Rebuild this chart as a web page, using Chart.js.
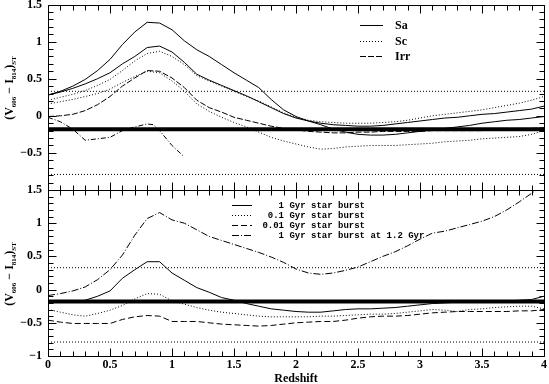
<!DOCTYPE html>
<html>
<head>
<meta charset="utf-8">
<script src="https://cdn.jsdelivr.net/npm/chart.js@4.4.0/dist/chart.umd.min.js"></script>
<style>
  html, body { margin: 0; padding: 0; background: #fff; }
  #wrap { position: relative; width: 549px; height: 384px; }
  canvas { position: absolute; left: 0; }
  #top { top: 0; }
  #bottom { top: 180px; }
</style>
</head>
<body>
<div id="wrap">
  <canvas id="top" width="549" height="200"></canvas>
  <canvas id="bottom" width="549" height="204"></canvas>
</div>
<script>
// redshift grid used by the model curves
const zGrid = [0, 0.1, 0.2, 0.3, 0.4, 0.5, 0.6, 0.7, 0.8, 0.9, 1.0, 1.1, 1.2, 1.3, 1.4, 1.5, 1.6, 1.7, 1.8, 1.9, 2.0,
               2.1, 2.2, 2.3, 2.4, 2.5, 2.6, 2.7, 2.8, 2.9, 3.0, 3.1, 3.2, 3.3, 3.4, 3.5, 3.6, 3.7, 3.8, 3.9, 4.0];

// top panel: Hubble types
const sa1 = [0.28, 0.33, 0.40, 0.49, 0.61, 0.76, 0.96, 1.13, 1.26, 1.25, 1.16, 1.01, 0.89, 0.80, 0.69, 0.58, 0.48, 0.38, 0.22, 0.08, -0.01,
             -0.07, -0.12, -0.18, -0.22, -0.25, -0.26, -0.26, -0.25, -0.23, -0.21, -0.19, -0.17, -0.15, -0.13, -0.10, -0.08, -0.06, -0.05, -0.03, -0.01];
const sa2 = [0.28, 0.32, 0.37, 0.43, 0.50, 0.58, 0.70, 0.80, 0.92, 0.94, 0.86, 0.72, 0.56, 0.48, 0.41, 0.34, 0.27, 0.19, 0.11, 0.03, -0.03,
             -0.07, -0.10, -0.12, -0.13, -0.14, -0.14, -0.13, -0.11, -0.09, -0.07, -0.05, -0.03, -0.02, 0.00, 0.02, 0.03, 0.05, 0.07, 0.09, 0.13];
const sc1 = [0.21, 0.25, 0.29, 0.34, 0.41, 0.49, 0.61, 0.74, 0.84, 0.87, 0.80, 0.69, 0.54, 0.47, 0.40, 0.33, 0.26, 0.20, 0.12, 0.04, -0.02,
             -0.06, -0.08, -0.09, -0.10, -0.10, -0.10, -0.09, -0.08, -0.06, -0.03, 0.00, 0.02, 0.04, 0.06, 0.08, 0.11, 0.14, 0.17, 0.21, 0.26];
const sc2 = [0.16, 0.19, 0.22, 0.26, 0.30, 0.36, 0.45, 0.53, 0.60, 0.58, 0.47, 0.33, 0.16, 0.06, -0.02, -0.09, -0.15, -0.22, -0.29, -0.34, -0.38,
             -0.42, -0.45, -0.44, -0.42, -0.41, -0.40, -0.40, -0.40, -0.39, -0.38, -0.37, -0.35, -0.34, -0.33, -0.31, -0.30, -0.29, -0.28, -0.25, -0.20];
const irr1 = [-0.01, 0.00, 0.02, 0.07, 0.15, 0.26, 0.40, 0.51, 0.61, 0.60, 0.51, 0.38, 0.21, 0.11, 0.05, -0.02, -0.06, -0.10, -0.14, -0.17, -0.19,
              -0.21, -0.22, -0.23, -0.23, -0.22, -0.22, -0.21, -0.21, -0.21, -0.21, -0.20, -0.20, -0.20, -0.20, -0.20, -0.19, -0.19, -0.18, -0.17, -0.16];
const irr2Z = [0, 0.1, 0.2, 0.3, 0.4, 0.5, 0.6, 0.7, 0.8, 0.85, 0.9, 1.0, 1.09];
const irr2 = [-0.02, -0.08, -0.18, -0.33, -0.31, -0.29, -0.20, -0.15, -0.11, -0.12, -0.20, -0.40, -0.54];

// bottom panel: star burst models
const burst1 = [-0.18, -0.18, -0.18, -0.16, -0.10, -0.02, 0.17, 0.30, 0.42, 0.42, 0.25, 0.14, 0.03, -0.04, -0.12, -0.16, -0.21, -0.25, -0.29, -0.31, -0.33,
                -0.34, -0.34, -0.32, -0.30, -0.29, -0.29, -0.28, -0.27, -0.25, -0.23, -0.21, -0.20, -0.19, -0.19, -0.18, -0.17, -0.17, -0.16, -0.15, -0.10];
const burst01 = [-0.30, -0.34, -0.38, -0.40, -0.36, -0.31, -0.24, -0.14, -0.06, -0.07, -0.17, -0.22, -0.27, -0.31, -0.34, -0.36, -0.38, -0.40, -0.41, -0.41, -0.41,
                 -0.41, -0.40, -0.40, -0.39, -0.38, -0.37, -0.37, -0.36, -0.34, -0.32, -0.30, -0.31, -0.33, -0.30, -0.29, -0.27, -0.26, -0.25, -0.25, -0.29];
const burst001 = [-0.46, -0.49, -0.51, -0.51, -0.51, -0.51, -0.45, -0.41, -0.39, -0.40, -0.48, -0.48, -0.48, -0.50, -0.52, -0.53, -0.54, -0.55, -0.54, -0.52, -0.50,
                  -0.49, -0.48, -0.48, -0.46, -0.43, -0.41, -0.40, -0.40, -0.39, -0.37, -0.35, -0.34, -0.33, -0.33, -0.33, -0.33, -0.33, -0.32, -0.32, -0.30];
const burstLate = [-0.09, -0.06, -0.02, 0.04, 0.15, 0.30, 0.52, 0.82, 1.07, 1.16, 1.05, 1.00, 0.90, 0.80, 0.74, 0.68, 0.62, 0.56, 0.49, 0.41, 0.31,
                   0.25, 0.23, 0.25, 0.29, 0.34, 0.42, 0.50, 0.57, 0.66, 0.76, 0.85, 0.88, 0.93, 0.98, 1.03, 1.10, 1.20, 1.32, 1.45, 1.58];

// horizontal reference levels, same in both panels
const refDotted = [0.33, -0.79];
const refThick = -0.18;

const FONT_SERIF = '"Liberation Serif", "DejaVu Serif", serif';
const FONT_MONO = '"Liberation Mono", "DejaVu Sans Mono", monospace';

function pts(zs, ys) {
  return zs.map((z, i) => ({ x: z, y: ys[i] }));
}

function curve(label, zs, ys, dash, inLegend) {
  return {
    label, data: pts(zs, ys), borderColor: '#000', borderWidth: 1, borderDash: dash,
    pointRadius: 0, tension: 0, fill: false, inLegend: !!inLegend
  };
}

function refLines() {
  const sets = refDotted.map(v => ({
    label: 'ref ' + v, data: [{ x: 0, y: v }, { x: 4, y: v }], borderColor: '#000', borderWidth: 1,
    borderDash: [1, 2], pointRadius: 0
  }));
  sets.push({
    label: 'mean', data: [{ x: 0, y: refThick }, { x: 4, y: refThick }], borderColor: '#000', borderWidth: 4,
    pointRadius: 0
  });
  return sets;
}

function fmt(v) {
  if (v === 0) return '0';
  return v < 0 ? '\u2212' + Math.abs(v) : String(v);
}

// frame with inward ticks on all four sides
const frameTicks = {
  id: 'frameTicks',
  afterDatasetsDraw(chart) {
    const { ctx, chartArea: a, scales: { x, y } } = chart;
    const L = Math.round(a.left) + 0.5, R = Math.round(a.right) + 0.5;
    const T = Math.round(a.top) + 0.5, B = Math.round(a.bottom) + 0.5;
    ctx.save();
    ctx.strokeStyle = '#000';
    ctx.lineWidth = 1;
    ctx.beginPath();
    ctx.rect(L, T, R - L, B - T);
    for (let i = 0; i <= 40; i++) {
      const px = Math.round(x.getPixelForValue(i / 10)) + 0.5;
      const len = i % 5 === 0 ? 8 : 5;
      ctx.moveTo(px, T); ctx.lineTo(px, T + len);
      ctx.moveTo(px, B); ctx.lineTo(px, B - len);
    }
    for (let i = -10; i <= 15; i++) {
      const py = Math.round(y.getPixelForValue(i / 10)) + 0.5;
      const len = i % 5 === 0 ? 8 : 5;
      ctx.moveTo(L, py); ctx.lineTo(L + len, py);
      ctx.moveTo(R, py); ctx.lineTo(R - len, py);
    }
    ctx.stroke();
    ctx.restore();
  }
};

// rotated y title with subscripts: (V606 - I814)ST
const yTitle = {
  id: 'yTitle',
  afterDraw(chart, args, opts) {
    const { ctx } = chart;
    const parts = [['(V', 0], ['606', 1], [' \u2212 I', 0], ['814', 1], [')', 0], ['ST', 1]];
    const big = 'bold 12px ' + FONT_SERIF, small = 'bold 7px ' + FONT_SERIF;
    ctx.save();
    let w = 0;
    parts.forEach(([t, s]) => { ctx.font = s ? small : big; w += ctx.measureText(t).width; });
    ctx.translate(opts.x, opts.y);
    ctx.rotate(-Math.PI / 2);
    ctx.fillStyle = '#000';
    ctx.textBaseline = 'middle';
    let cx = -w / 2;
    parts.forEach(([t, s]) => {
      ctx.font = s ? small : big;
      ctx.fillText(t, cx, s ? 4 : 0);
      cx += ctx.measureText(t).width;
    });
    ctx.restore();
  }
};

// legend drawn inside the plot from the flagged datasets
const inLegend = {
  id: 'inLegend',
  afterDraw(chart, args, opts) {
    const { ctx } = chart;
    const items = chart.data.datasets.filter(d => d.inLegend);
    ctx.save();
    ctx.fillStyle = '#000';
    ctx.strokeStyle = '#000';
    ctx.textBaseline = 'middle';
    ctx.font = opts.font;
    items.forEach((d, i) => {
      const yy = Math.round(opts.y + i * opts.dy) + 0.5;
      ctx.lineWidth = 1;
      ctx.setLineDash(d.borderDash || []);
      ctx.beginPath();
      ctx.moveTo(opts.x1, yy);
      ctx.lineTo(opts.x2, yy);
      ctx.stroke();
      ctx.setLineDash([]);
      if (opts.splitAt) {
        const sp = d.label.indexOf(' ');
        ctx.textAlign = 'right';
        ctx.fillText(d.label.slice(0, sp), opts.splitAt, yy);
        ctx.textAlign = 'left';
        ctx.fillText(d.label.slice(sp), opts.splitAt, yy);
      } else {
        ctx.textAlign = 'left';
        ctx.fillText(d.label, opts.tx, yy);
      }
    });
    ctx.restore();
  }
};

function yScale(hideMinusOne) {
  return {
    type: 'linear', min: -1, max: 1.5,
    grid: { display: false, drawTicks: false }, border: { display: false },
    ticks: {
      stepSize: 0.5, padding: 6, color: '#000',
      font: { family: FONT_SERIF, size: 12, weight: 'bold' },
      callback: v => (hideMinusOne && v === -1) ? '' : fmt(v)
    },
    afterFit(s) { s.width = 48; s.paddingTop = 0; s.paddingBottom = 0; }
  };
}

const topChart = new Chart(document.getElementById('top'), {
  type: 'line',
  data: {
    datasets: [
      curve('Sa', zGrid, sa1, [], true),
      curve('Sc', zGrid, sc1, [1, 2], true),
      curve('Irr', zGrid, irr1, [6, 2], true),
      curve('Sa (2)', zGrid, sa2, []),
      curve('Sc (2)', zGrid, sc2, [1, 2]),
      curve('Irr (2)', irr2Z, irr2, [5, 2, 1, 2]),
      ...refLines()
    ]
  },
  options: {
    responsive: false, animation: false, events: [],
    layout: { padding: { left: 0, right: 5, top: 4.5, bottom: 10 } },
    scales: {
      x: { type: 'linear', min: 0, max: 4, display: false },
      y: yScale(true)
    },
    plugins: {
      legend: { display: false }, tooltip: { enabled: false },
      yTitle: { x: 10, y: 88 },
      inLegend: { x1: 360, x2: 383, tx: 395, y: 25, dy: 15.5, font: 'bold 12px ' + FONT_SERIF }
    }
  },
  plugins: [frameTicks, yTitle, inLegend]
});

const bottomChart = new Chart(document.getElementById('bottom'), {
  type: 'line',
  data: {
    datasets: [
      curve('1 Gyr star burst', zGrid, burst1, [], true),
      curve('0.1 Gyr star burst', zGrid, burst01, [1, 2], true),
      curve('0.01 Gyr star burst', zGrid, burst001, [6, 3], true),
      curve('1 Gyr star burst at 1.2 Gyr', zGrid, burstLate, [7, 2, 1, 2], true),
      ...refLines()
    ]
  },
  options: {
    responsive: false, animation: false, events: [],
    layout: { padding: { left: 0, right: 5, top: 10, bottom: 0 } },
    scales: {
      x: {
        type: 'linear', min: 0, max: 4,
        grid: { display: false, drawTicks: false }, border: { display: false },
        ticks: {
          stepSize: 0.5, padding: 2, color: '#000', maxRotation: 0,
          font: { family: FONT_SERIF, size: 12, weight: 'bold' },
          callback: v => fmt(v)
        },
        title: {
          display: true, text: 'Redshift', color: '#000', padding: 0,
          font: { family: FONT_SERIF, size: 12, weight: 'bold', lineHeight: 0.8 }
        },
        afterFit(s) { s.height = 28; s.paddingLeft = 0; s.paddingRight = 0; }
      },
      y: yScale(false)
    },
    plugins: {
      legend: { display: false }, tooltip: { enabled: false },
      yTitle: { x: 10, y: 94 },
      inLegend: { x1: 232, x2: 252, splitAt: 284, y: 25, dy: 10, font: 'bold 9px ' + FONT_MONO }
    }
  },
  plugins: [frameTicks, yTitle, inLegend]
});
</script>
</body>
</html>
